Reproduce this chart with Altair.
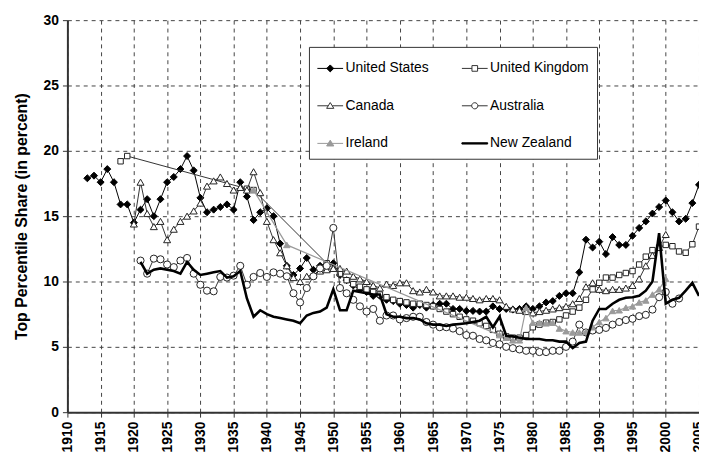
import altair as alt
import pandas as pd

# ---------------- data ----------------
us_years = list(range(1913, 2006))
us_share = [17.9, 18.1, 17.6, 18.6, 17.6, 15.9, 15.9, 14.5, 15.5, 16.3,
            15.0, 16.3, 17.6, 18.0, 18.6, 19.6, 18.5, 16.4, 15.3, 15.5,
            15.7, 15.9, 15.5, 17.6, 16.5, 14.7, 15.3, 15.6, 15.0, 12.9,
            11.2, 10.5, 11.0, 11.8, 10.9, 11.2, 11.3, 11.4, 10.5, 10.1,
            9.7, 9.4, 9.2, 8.9, 8.9, 8.6, 8.5, 8.3, 8.2, 8.0,
            8.2, 8.0, 8.2, 8.3, 8.3, 7.9, 7.9, 7.75, 7.75, 7.7,
            7.7, 8.1, 7.9, 7.9, 7.85, 7.9, 8.1, 7.9, 8.1, 8.4,
            8.5, 8.9, 9.1, 9.1, 10.7, 13.2, 12.6, 13.05, 12.1, 13.4,
            12.8, 12.8, 13.5, 14.1, 14.6, 15.2, 15.7, 16.2, 15.3, 14.6,
            14.8, 16.0, 17.4]

uk_years = [1918, 1919, 1937, 1938, 1949] + list(range(1951, 2006))
uk_share = [19.2, 19.6, 17.1, 17.0, 11.4,
            10.6, 10.1, 9.8, 9.6, 9.4, 9.2, 9.0, 8.8, 8.6, 8.5,
            8.4, 8.3, 8.3, 8.2, 8.1, 7.9, 7.7, 7.5, 7.3, 7.1,
            7.0, 6.8, 6.6, 6.3, 6.0, 5.8, 5.7, 5.7, 5.9, 6.5,
            6.7, 6.85, 6.9, 7.1, 7.4, 7.7, 8.0, 8.6, 9.4, 9.9,
            10.3, 10.3, 10.5, 10.65, 10.8, 11.3, 11.9, 12.4, 12.6, 12.8,
            12.7, 12.3, 12.2, 12.85, 14.2]

ca_years = list(range(1920, 2001))
ca_share = [14.4, 17.6, 15.2, 14.2, 14.6, 13.2, 14.0, 14.6, 15.0, 15.4,
            16.0, 17.3, 17.7, 18.0, 17.5, 17.0, 17.2, 17.0, 18.4, 16.8,
            14.6, 13.2, 12.2, 11.2, 10.3, 10.0, 10.4, 10.5, 10.8, 10.9,
            11.0, 11.0, 10.8, 10.4, 10.2, 10.0, 9.7, 9.5, 9.8, 9.7,
            9.9, 9.9, 9.3, 9.2, 9.4, 9.2, 8.9, 8.9, 8.9, 8.8,
            8.8, 8.7, 8.6, 8.7, 8.7, 8.6, 8.1, 7.9, 7.8, 7.7,
            7.6, 7.7, 7.8, 7.9, 8.0, 8.1, 8.3, 8.7, 9.6, 9.9,
            9.4, 9.3, 9.4, 9.4, 9.5, 9.7, 10.2, 11.2, 12.0, 12.6,
            13.6]

au_years = list(range(1921, 2003))
au_share = [11.6, 10.6, 11.75, 11.7, 11.3, 11.1, 11.6, 11.8, 10.6, 9.75,
            9.3, 9.25, 10.35, 10.3, 10.45, 11.2, 9.75, 10.35, 10.65, 10.35,
            10.7, 10.6, 10.4, 9.1, 8.4, 9.5, 10.4, 11.0, 11.2, 14.1,
            9.5, 9.1, 8.6, 8.1, 7.7, 7.9, 7.0, 7.4, 7.4, 7.1,
            7.2, 7.3, 7.3, 6.9, 6.7, 6.5, 6.5, 6.4, 6.2, 5.9,
            5.85, 5.6, 5.5, 5.3, 5.2, 5.0, 4.9, 4.8, 4.7, 4.7,
            4.6, 4.6, 4.7, 4.7, 5.0, 5.4, 6.7, 6.1, 6.25, 6.3,
            6.45, 6.7, 6.9, 7.05, 7.15, 7.35, 7.45, 7.85, 8.8, 9.2,
            8.3, 8.7]

ie_years = [1938, 1943] + list(range(1975, 2001))
ie_share = [17.0, 12.8,
            5.9, 5.7, 5.5, 5.5, 8.0, 6.85, 6.85, 6.8, 6.85, 6.4,
            6.2, 6.1, 6.1, 6.15, 6.5, 6.9, 7.2, 7.75, 7.8, 8.0,
            8.1, 8.4, 8.55, 9.0, 9.4, 10.2]

nz_years = list(range(1921, 2006))
nz_share = [11.5, 10.6, 10.9, 11.0, 10.9, 10.8, 10.6, 11.5, 10.9, 10.5,
            10.6, 10.7, 10.8, 10.3, 10.4, 10.8, 8.7, 7.3, 7.8, 7.5,
            7.3, 7.2, 7.1, 7.0, 6.8, 7.4, 7.6, 7.7, 8.0, 9.4,
            7.8, 7.8, 9.3, 9.2, 9.1, 9.0, 9.0, 7.5, 7.3, 7.3,
            7.2, 7.2, 7.1, 6.8, 6.7, 6.7, 6.6, 6.7, 6.75, 6.8,
            6.9, 7.0, 7.3, 6.5, 7.3, 5.85, 5.8, 5.7, 5.6, 5.6,
            5.6, 5.5, 5.5, 5.4, 5.4, 4.9, 5.3, 5.4, 7.0, 7.9,
            7.9, 8.3, 8.6, 8.75, 8.8, 8.9, 9.3, 10.0, 13.7, 8.3,
            8.6, 8.75, 9.3, 9.9, 8.9]

countries = ["United States", "United Kingdom", "Canada",
             "Australia", "Ireland", "New Zealand"]
year_ticks = list(range(1910, 2006, 5))
share_ticks = [0, 5, 10, 15, 20, 25, 30]

series = [us_share, uk_share, ca_share, au_share, ie_share, nz_share]
years = [us_years, uk_years, ca_years, au_years, ie_years, nz_years]
df = pd.concat(
    [pd.DataFrame({"Country": c, "Year": yr, "Share": v})
     for c, yr, v in zip(countries, years, series)],
    ignore_index=True)

# ---------------- styling ----------------
FONT = "Liberation Sans"

x_enc = alt.X("Year:Q",
              scale=alt.Scale(domain=[1910, 2005], nice=False, zero=False),
              axis=alt.Axis(values=year_ticks, format="d", title=None,
                            labelAngle=-90, labelFlush=False,
                            labelOverlap=False, labelPadding=4))
y_enc = alt.Y("Share:Q",
              scale=alt.Scale(domain=[0, 30], nice=False),
              axis=alt.Axis(values=share_ticks,
                            title="Top Percentile Share (in percent)",
                            labelPadding=4, titlePadding=14))

line_style = {
    "United States": dict(color="black", strokeWidth=1),
    "United Kingdom": dict(color="#333333", strokeWidth=1),
    "Canada": dict(color="#333333", strokeWidth=1),
    "Australia": dict(color="#333333", strokeWidth=1),
    "Ireland": dict(color="#9a9a9a", strokeWidth=1.2),
    "New Zealand": dict(color="black", strokeWidth=2.6),
}
point_style = {
    "United States": dict(shape="diamond", size=50, fill="black", stroke="black"),
    "United Kingdom": dict(shape="square", size=30, fill="white", stroke="#222222"),
    "Canada": dict(shape="triangle-up", size=50, fill="white", stroke="#222222"),
    "Australia": dict(shape="circle", size=52, fill="white", stroke="#222222"),
    "Ireland": dict(shape="triangle-up", size=42, fill="#9a9a9a", stroke="#9a9a9a"),
}

layers = []
for c in countries:
    base = alt.Chart(df).transform_filter(alt.datum.Country == c).encode(
        x=x_enc, y=y_enc, order="Year:Q")
    layers.append(base.mark_line(**line_style[c]))
    if c in point_style:
        layers.append(base.mark_point(opacity=1, strokeWidth=1,
                                      filled=False, **point_style[c]))

# legend: the grid is filled column by column, so list column 1 then column 2
legend_order = ["United States", "Canada", "Ireland",
                "United Kingdom", "Australia", "New Zealand"]
legend_paths = [
    "M-1,0H1M0,-0.27L0.27,0L0,0.27L-0.27,0Z",
    "M-1,0H-0.16M0.16,0H1M0,-0.25L0.28,0.2L-0.28,0.2Z",
    "M-1,0H1M0,-0.25L0.28,0.2L-0.28,0.2Z",
    "M-1,0H-0.22M0.22,0H1M-0.22,-0.22H0.22V0.22H-0.22Z",
    "M-1,0H-0.24M0.24,0H1M-0.24,0A0.24,0.24 0 1,0 0.24,0A0.24,0.24 0 1,0 -0.24,0Z",
    "M-1,-0.05H1V0.05H-1Z",
]
legend_fill = ["black", "white", "#9a9a9a", "white", "white", "black"]
legend_stroke = ["black", "#333333", "#9a9a9a", "#333333", "#333333", "black"]

leg = alt.Legend(title=None, orient="none", legendX=244, legendY=27,
                 columns=2, columnPadding=30, rowPadding=17, padding=8,
                 fillColor="white", strokeColor="#333333",
                 symbolSize=676, symbolStrokeWidth=1, symbolOpacity=1,
                 labelFont=FONT, labelFontSize=14, labelColor="black",
                 labelOffset=2, labelLimit=300)

legend_layer = alt.Chart(df).transform_filter("false").mark_point(
    opacity=1, size=676, strokeWidth=1).encode(
    x=x_enc, y=y_enc,
    shape=alt.Shape("Country:N", scale=alt.Scale(domain=legend_order, range=legend_paths), legend=leg),
    fill=alt.Fill("Country:N", scale=alt.Scale(domain=legend_order, range=legend_fill), legend=leg),
    stroke=alt.Stroke("Country:N", scale=alt.Scale(domain=legend_order, range=legend_stroke), legend=leg),
)
layers.append(legend_layer)

chart = alt.layer(*layers).properties(
    width=638, height=396,
    autosize=alt.AutoSizeParams(type="none"),
    padding={"left": 60, "top": 10, "right": 0, "bottom": 43},
    background="white",
).configure_view(stroke=None).configure_axis(
    grid=True, gridDash=[4, 4], gridColor="#444444", gridWidth=1,
    domainColor="#333333", domainWidth=2,
    tickColor="#333333", tickSize=5, tickWidth=1,
    labelFont=FONT, labelFontSize=14, labelFontWeight="bold", labelColor="black",
    titleFont=FONT, titleFontSize=16, titleFontWeight="bold", titleColor="black",
)

chart.save("out.html", embed_options={"renderer": "svg", "actions": False})
